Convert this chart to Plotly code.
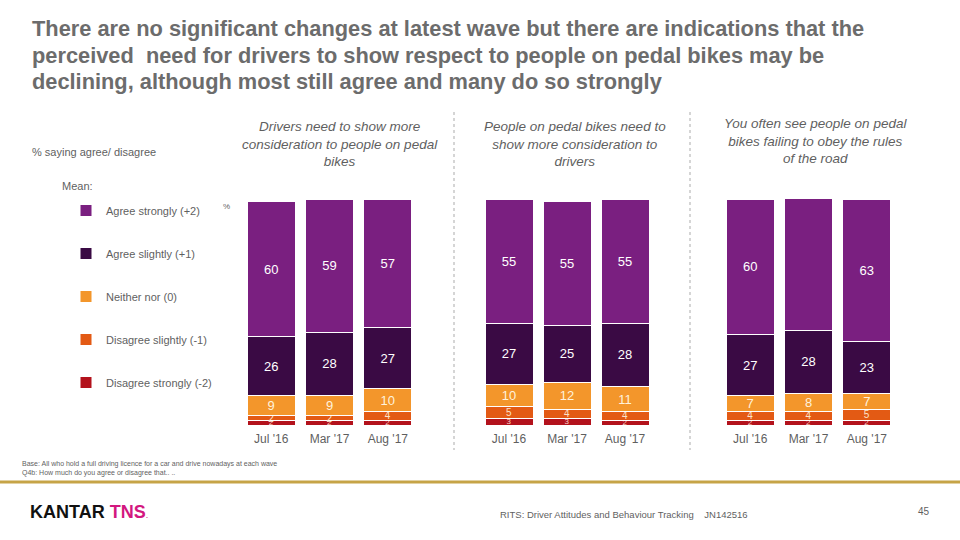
import plotly.graph_objects as go

# ---------------- data ----------------
waves = ["Jul '16", "Mar '17", "Aug '17"]
statements = [
    "Drivers need to show more<br>consideration to people on pedal<br>bikes",
    "People on pedal bikes need to<br>show more consideration to<br>drivers",
    "You often see people on pedal<br>bikes failing to obey the rules<br>of the road",
]
means = [[1.39, 1.40, 1.30], [1.25, 1.25, 1.31], [1.40, 1.38, 1.38]]
agree_strongly = [[60, 59, 57], [55, 55, 55], [60, 59, 63]]
agree_slightly = [[26, 28, 27], [27, 25, 28], [27, 28, 23]]
neither = [[9, 9, 10], [10, 12, 11], [7, 8, 7]]
disagree_slightly = [[2, 2, 4], [5, 4, 4], [4, 4, 5]]
disagree_strongly = [[2, 2, 2], [3, 3, 2], [2, 2, 2]]

series = [
    ("Disagree strongly (-2)", disagree_strongly, "#B3121C", "#F6D7C8", 8, 5),
    ("Disagree slightly (-1)", disagree_slightly, "#E35A14", "#FBE3C8", 10, 4),
    ("Neither nor (0)", neither, "#F3962B", "#FFF2DC", 13, 3),
    ("Agree slightly (+1)", agree_slightly, "#3A0A44", "#FFFFFF", 13, 2),
    ("Agree strongly (+2)", agree_strongly, "#7A1F80", "#FFFFFF", 13, 1),
]

W, H = 960, 540
GRAY = "#5F5F5F"
FONT = "Liberation Sans, Arial, sans-serif"

fig = go.Figure()

# pixel geometry of the three panels
x_domains_px = [(242, 417), (480, 654), (721, 896)]
y_bottom_px, y_top_px = 425, 199
ydom = [1 - y_bottom_px / H, 1 - y_top_px / H]

for g in range(3):
    xa = "x" if g == 0 else f"x{g+1}"
    ya = "y" if g == 0 else f"y{g+1}"
    for name, vals, color, tcolor, tsize, rank in series:
        fig.add_trace(go.Bar(
            x=waves, y=vals[g], name=name,
            xaxis=xa, yaxis=ya,
            marker=dict(color=color, line=dict(color="white", width=1)),
            text=[str(v) for v in vals[g]],
            textposition="inside", insidetextanchor="middle",
            constraintext="none", textangle=0,
            textfont=dict(color=tcolor, size=tsize, family=FONT),
            legendgroup=name, legendrank=rank, showlegend=(g == 0),
            hoverinfo="skip",
        ))
    fig.add_trace(go.Scatter(
        x=waves, y=[106.5] * 3, mode="text",
        text=[f"{m:.2f}" for m in means[g]],
        textfont=dict(color=GRAY, size=13, family=FONT),
        xaxis=xa, yaxis=ya, showlegend=False, cliponaxis=False,
        hoverinfo="skip",
    ))

layout_axes = {}
for g in range(3):
    xs = "xaxis" if g == 0 else f"xaxis{g+1}"
    ys = "yaxis" if g == 0 else f"yaxis{g+1}"
    x0, x1 = x_domains_px[g]
    layout_axes[xs] = dict(
        domain=[x0 / W, x1 / W], anchor="y" if g == 0 else f"y{g+1}",
        showgrid=False, zeroline=False, showline=False, ticks="",
        ticklabelstandoff=5,
        tickfont=dict(color=GRAY, size=12, family=FONT),
        categoryorder="array", categoryarray=waves,
    )
    layout_axes[ys] = dict(
        domain=ydom, range=[0, 100], anchor="x" if g == 0 else f"x{g+1}",
        visible=False, fixedrange=True,
    )

fig.update_layout(
    width=W, height=H,
    margin=dict(l=0, r=0, t=0, b=0),
    paper_bgcolor="white", plot_bgcolor="white",
    barmode="stack", bargap=10 / 58,
    font=dict(family=FONT, color=GRAY),
    legend=dict(
        x=66 / W, y=1 - 196 / H, xanchor="left", yanchor="top",
        traceorder="grouped", tracegroupgap=24,
        font=dict(size=11, color=GRAY, family=FONT),
        bgcolor="rgba(0,0,0,0)", itemwidth=30,
    ),
    **layout_axes,
)

ann = []
# title (one annotation per line to match line spacing)
title_lines = [
    "There are no significant changes at latest wave but there are indications that the",
    "perceived  need for drivers to show respect to people on pedal bikes may be",
    "declining, although most still agree and many do so strongly",
]
for i, line in enumerate(title_lines):
    ann.append(dict(
        x=30 / W, y=1 - (29 + 26 * i) / H, xref="paper", yref="paper",
        xanchor="left", yanchor="middle", align="left", showarrow=False,
        text=f"<b>{line}</b>",
        font=dict(size=21.8, color="#6C6C6C", family=FONT),
    ))
# statement headings
head_centers = [(340, 144), (575, 144), (815, 141)]
for (cx, cy), s in zip(head_centers, statements):
    ann.append(dict(
        x=cx / W, y=1 - cy / H, xref="paper", yref="paper", xanchor="center", yanchor="middle",
        showarrow=False, align="center", text=f"<i>{s}</i>",
        font=dict(size=13.5, color=GRAY, family=FONT),
    ))
# side texts
ann.append(dict(x=30 / W, y=1 - 152 / H, xref="paper", yref="paper", xanchor="left", yanchor="middle",
                showarrow=False, text="% saying agree/ disagree", font=dict(size=11, color=GRAY, family=FONT)))
ann.append(dict(x=60 / W, y=1 - 186 / H, xref="paper", yref="paper", xanchor="left", yanchor="middle",
                showarrow=False, text="Mean:", font=dict(size=11, color=GRAY, family=FONT)))
ann.append(dict(x=221 / W, y=1 - 207 / H, xref="paper", yref="paper", xanchor="left", yanchor="middle",
                showarrow=False, text="%", font=dict(size=8, color=GRAY, family=FONT)))
# footer
ann.append(dict(x=20 / W, y=1 - 468 / H, xref="paper", yref="paper", xanchor="left", yanchor="middle",
                showarrow=False, align="left",
                text=("Base: All who hold a full driving licence for a car and drive nowadays at each wave<br>"
                      "Q4b: How much do you agree or disagree that.. .."),
                font=dict(size=7, color=GRAY, family=FONT)))
ann.append(dict(x=28 / W, y=1 - 512 / H, xref="paper", yref="paper", xanchor="left", yanchor="middle",
                showarrow=False,
                text="<b>KANTAR</b> <b><span style='color:#D3177F'>TNS</span></b><span style='color:#D3177F;font-size:9px'>.</span>",
                font=dict(size=18, color="#111111", family=FONT)))
ann.append(dict(x=498 / W, y=1 - 514 / H, xref="paper", yref="paper", xanchor="left", yanchor="middle",
                showarrow=False, text="RITS: Driver Attitudes and Behaviour Tracking&nbsp;&nbsp;&nbsp;&nbsp;JN142516",
                font=dict(size=9.5, color=GRAY, family=FONT)))
ann.append(dict(x=932 / W, y=1 - 511 / H, xref="paper", yref="paper", xanchor="right", yanchor="middle",
                showarrow=False, text="45", font=dict(size=10, color=GRAY, family=FONT)))

shapes = [
    dict(type="line", xref="paper", yref="paper", x0=0, x1=1, y0=1 - 482 / H, y1=1 - 482 / H,
         line=dict(color="#C6A447", width=3)),
]
for sx in (454, 690):
    shapes.append(dict(type="line", xref="paper", yref="paper", x0=sx / W, x1=sx / W,
                       y0=1 - 112 / H, y1=1 - 450 / H,
                       line=dict(color="#C8C8C8", width=1.5, dash="dot")))

fig.update_layout(annotations=ann, shapes=shapes)
fig.write_html("out.html", config={"displayModeBar": False},
               post_script="document.body.style.margin='0';")
